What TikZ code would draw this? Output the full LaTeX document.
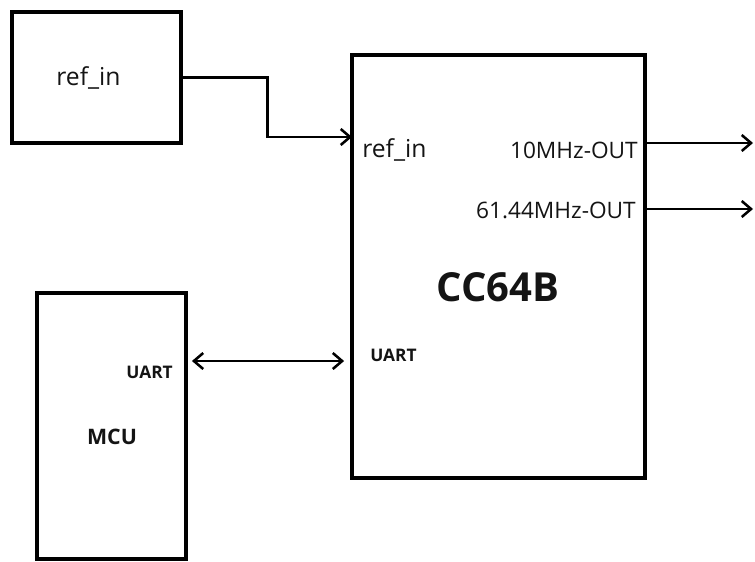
\documentclass[tikz,border=0pt]{standalone}
\usepackage{fontspec}
\setmainfont{Open Sans}
\usepackage{tikz}
\usetikzlibrary{arrows.meta,positioning,calc}
\definecolor{inkline}{RGB}{0,0,0}
\definecolor{inktext}{RGB}{20,20,20}
\tikzset{
  box/.style={
    draw=inkline,
    line width=2.9pt,
    inner sep=0pt
  },
  pin/.style={
    text=inktext,
    inner sep=0pt,
    font=\fontsize{17}{20}\selectfont
  },
  pinbold/.style={
    text=inktext,
    inner sep=0pt,
    font=\bfseries\fontsize{13}{15}\selectfont
  },
  line/.style={-{Straight Barb[length=7pt,width=12pt]}, line width=1.9pt},
  biline/.style={{Straight Barb[length=7pt,width=12pt]}-{Straight Barb[length=7pt,width=12pt]}, line width=1.9pt}
}
\begin{document}
\begin{tikzpicture}[x=0.75pt, y=-0.75pt]
        \useasboundingbox (0,0) rectangle (755,561);
        \node[box, minimum width=126.75pt, minimum height=98.25pt] (refbox) at (96.5,77.5) {};
        \node[box, minimum width=219.75pt, minimum height=317.25pt] (cc) at (498.5,266.5) {};
        \node[box, minimum width=111.75pt, minimum height=199.5pt] (mcu) at (111.5,426) {};
        \node[pin, font=\fontsize{18.5}{21}\selectfont] (reftxt) at (88.5,78) {ref\_in};
        \node[pin, font=\fontsize{18.5}{21}\selectfont, anchor=west] (ccref) at (362,150) {ref\_in};
        \node[pin, anchor=east] (out10) at (638,150.5) {10MHz-OUT};
        \node[pin, anchor=east] (out61) at (636,210.5) {61.44MHz-OUT};
        \node[pin, font=\bfseries\fontsize{30}{34}\selectfont] (cctitle) at (498,287) {CC64B};
        \node[pinbold, anchor=west] (ccuart) at (370,355.5) {UART};
        \node[pinbold, anchor=east] (mcuuart) at (173,372) {UART};
        \node[pin, font=\bfseries\fontsize{16}{18}\selectfont] (mcutxt) at (112,437) {MCU};
        \coordinate (refport) at (352,137);
        \coordinate (o10) at (753,143);
        \coordinate (o61) at (753,209);
        \coordinate (uartlink) at (270,361);
        \draw[line] (refbox.east) -| ($(refbox.east)!0.5!(refport)$) |- (refport);
        \draw[line] (cc.east |- o10) -- (o10);
        \draw[line] (cc.east |- o61) -- (o61);
        \draw[biline, shorten <=3pt, shorten >=4.5pt] (mcu.east |- uartlink) -- (cc.west |- uartlink);
      \end{tikzpicture}
\end{document}
